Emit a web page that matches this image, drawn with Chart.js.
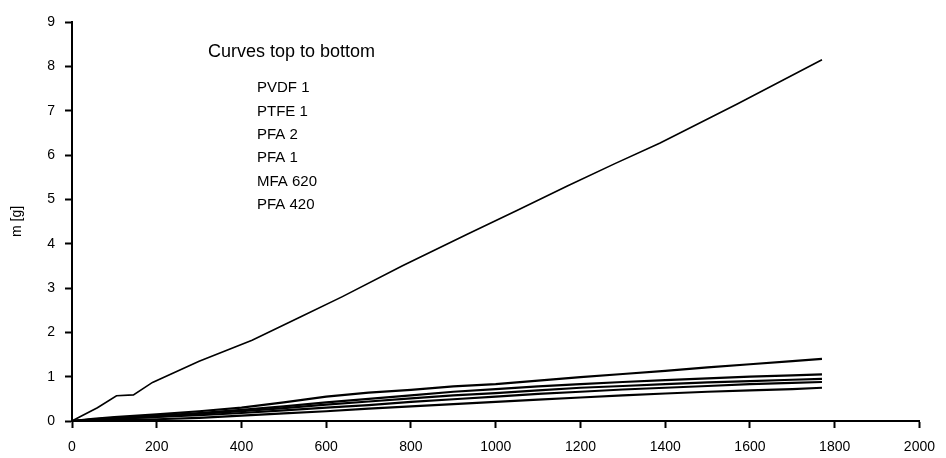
<!DOCTYPE html>
<html>
<head>
<meta charset="utf-8">
<title>m [g] vs time</title>
<script src="https://cdn.jsdelivr.net/npm/chart.js@4/dist/chart.umd.min.js"></script>
<style>
  html, body { margin: 0; padding: 0; background: #fff; }
  #wrap { width: 946px; height: 458px; }
</style>
</head>
<body>
<div id="wrap"><canvas id="massChart" width="946" height="458"></canvas></div>
<script>
// PVDF 1 is sampled on its own time grid, the five low curves share one
var pvdfTime = [0, 20, 60, 105, 145, 190, 300, 425, 540, 637, 780, 934, 1050, 1169, 1280, 1388, 1570, 1770];
var pvdf1 = [0, 0.1, 0.3, 0.57, 0.59, 0.87, 1.35, 1.82, 2.35, 2.8, 3.5, 4.22, 4.75, 5.3, 5.8, 6.27, 7.15, 8.15];

var time = [0, 50, 100, 200, 300, 400, 500, 600, 700, 800, 900, 1000, 1100, 1200, 1300, 1400, 1500, 1600, 1700, 1770];
var ptfe1  = [0, 0.05, 0.09, 0.15, 0.22, 0.3, 0.42, 0.55, 0.64, 0.7, 0.78, 0.83, 0.91, 0.99, 1.06, 1.13, 1.21, 1.28, 1.35, 1.40];
var pfa2   = [0, 0.04, 0.07, 0.12, 0.18, 0.25, 0.33, 0.42, 0.5, 0.58, 0.66, 0.72, 0.78, 0.83, 0.88, 0.92, 0.96, 1.0, 1.03, 1.05];
var pfa1   = [0, 0.03, 0.06, 0.1, 0.16, 0.22, 0.29, 0.37, 0.44, 0.51, 0.58, 0.63, 0.69, 0.75, 0.79, 0.83, 0.87, 0.9, 0.93, 0.95];
var mfa620 = [0, 0.02, 0.05, 0.09, 0.13, 0.18, 0.24, 0.3, 0.36, 0.43, 0.49, 0.55, 0.61, 0.66, 0.71, 0.75, 0.79, 0.83, 0.86, 0.88];
var pfa420 = [0, 0.01, 0.02, 0.04, 0.07, 0.12, 0.17, 0.22, 0.28, 0.33, 0.38, 0.43, 0.48, 0.53, 0.58, 0.62, 0.66, 0.69, 0.72, 0.75];

var curveNames = ['PVDF 1', 'PTFE 1', 'PFA 2', 'PFA 1', 'MFA 620', 'PFA 420'];
var xTicks = [0, 200, 400, 600, 800, 1000, 1200, 1400, 1600, 1800, 2000];
var yTicks = [0, 1, 2, 3, 4, 5, 6, 7, 8, 9];

function pairs(xs, ys) {
  return ys.map(function (v, i) { return { x: xs[i], y: v }; });
}

function curve(name, xs, ys, w) {
  return {
    label: name,
    data: pairs(xs, ys),
    borderColor: '#000',
    borderWidth: w,
    pointRadius: 0,
    tension: 0,
    fill: false
  };
}

var FONT = 'Liberation Sans';

// text block in the upper left of the plot
var notePlugin = {
  id: 'curveNote',
  afterDraw: function (chart) {
    var c = chart.ctx;
    c.save();
    c.fillStyle = '#000';
    c.textBaseline = 'middle';
    c.textAlign = 'left';
    c.font = '18px "' + FONT + '"';
    c.fillText('Curves top to bottom', 208, 52);
    c.font = '15px "' + FONT + '"';
    for (var i = 0; i < curveNames.length; i++) {
      c.fillText(curveNames[i], 257, 88 + i * 23.4);
    }
    c.restore();
  }
};

new Chart(document.getElementById('massChart').getContext('2d'), {
  type: 'line',
  data: {
    datasets: [
      curve(curveNames[0], pvdfTime, pvdf1, 1.6),
      curve(curveNames[1], time, ptfe1, 2.2),
      curve(curveNames[2], time, pfa2, 2.2),
      curve(curveNames[3], time, pfa1, 2.2),
      curve(curveNames[4], time, mfa620, 2.2),
      curve(curveNames[5], time, pfa420, 2.2)
    ]
  },
  options: {
    responsive: false,
    animation: false,
    layout: { padding: { left: 0, right: 22, top: 22, bottom: 0 } },
    plugins: { legend: { display: false }, tooltip: { enabled: false } },
    scales: {
      x: {
        type: 'linear',
        min: 0, max: 2000,
        afterBuildTicks: function (s) { s.ticks = xTicks.map(function (v) { return { value: v }; }); },
        afterFit: function (s) { s.height = 37; },
        grid: { drawOnChartArea: false, tickLength: 7, tickColor: '#000', tickWidth: 2 },
        border: { color: '#000', width: 2 },
        ticks: {
          color: '#000', font: { family: FONT, size: 14 }, padding: 11, maxRotation: 0, autoSkip: false,
          callback: function (v) { return String(v); }
        }
      },
      y: {
        min: 0, max: 9,
        afterBuildTicks: function (s) { s.ticks = yTicks.map(function (v) { return { value: v }; }); },
        afterFit: function (s) { s.width = 72; },
        grid: { drawOnChartArea: false, tickLength: 7, tickColor: '#000', tickWidth: 2 },
        border: { color: '#000', width: 2 },
        title: { display: true, text: 'm [g]', color: '#000', font: { family: FONT, size: 14 }, padding: { top: 9, bottom: 0 } },
        ticks: { color: '#000', font: { family: FONT, size: 14 }, padding: 10 }
      }
    }
  },
  plugins: [notePlugin]
});
</script>
</body>
</html>
